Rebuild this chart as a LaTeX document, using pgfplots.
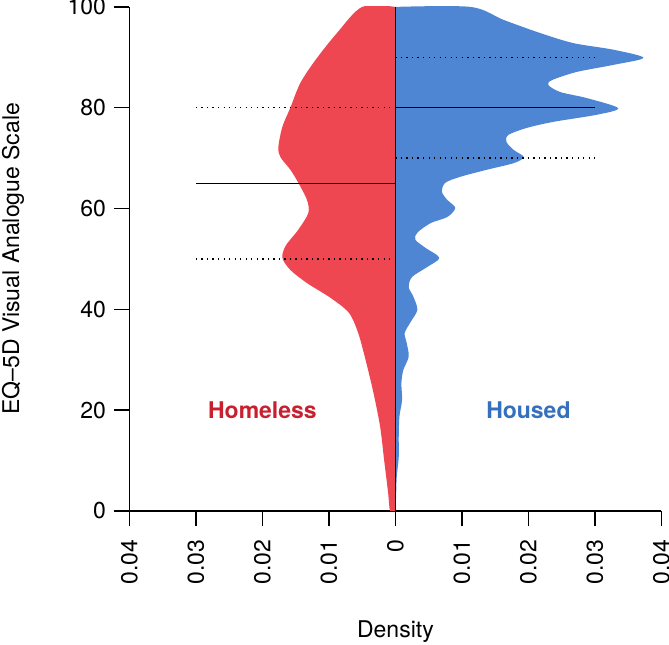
\documentclass[border=0pt]{standalone}
\usepackage{fontspec}
\setmainfont{TeX Gyre Heros}
\usepackage{pgfplots}
\pgfplotsset{compat=1.18}
\definecolor{redfill}{RGB}{238,71,82}
\definecolor{bluefill}{RGB}{79,134,212}
\definecolor{redtext}{RGB}{200,32,47}
\definecolor{bluetext}{RGB}{52,112,190}
\begin{document}
\begin{tikzpicture}
\begin{axis}[
  scale only axis, width=231.4pt, height=219.2pt,
  xmin=-0.04, xmax=0.04, ymin=0, ymax=100,
  axis lines=left,
  axis line style={-, line width=0.6pt},
  tick align=outside,
  major tick length=6.5pt,
  tick style={black, line width=0.6pt},
  xtick={-0.04,-0.03,-0.02,-0.01,0,0.01,0.02,0.03,0.04},
  xticklabels={0.04,0.03,0.02,0.01,0,0.01,0.02,0.03,0.04},
  scaled x ticks=false,
  ytick={0,20,40,60,80,100},
  /pgf/number format/assume math mode=true,
  ticklabel style={font=\fontsize{10}{12}\selectfont},
  xticklabel style={rotate=90, anchor=east, inner sep=0pt, inner xsep=6pt},
  yticklabel style={anchor=east, inner sep=0pt, inner xsep=3.5pt},
  xlabel={Density},
  ylabel={EQ--5D Visual Analogue Scale},
  label style={font=\fontsize{10}{12}\selectfont},
  xlabel style={at={(axis description cs:0.5,-0.24)}, anchor=center},
  ylabel style={at={(axis description cs:-0.219,0.5)}, anchor=center},
  clip=true,
]
% Homeless density (left, red)
\addplot[fill=redfill, draw=none, smooth, tension=0.5] coordinates {
(0,0) (-0.0008,0) (-0.0011,3.6) (-0.0017,10.1) (-0.0023,16.7) (-0.0033,23.4)
(-0.0045,30) (-0.0056,35.3) (-0.0070,39.3) (-0.0098,42.3) (-0.0133,45.2)
(-0.0158,47.8) (-0.0170,50.2) (-0.0165,52.6) (-0.0146,55.8) (-0.0131,59.1)
(-0.0133,61.7) (-0.0146,65.1) (-0.0158,67.7) (-0.0173,70.2) (-0.0176,72.2)
(-0.0170,76.2) (-0.0158,80) (-0.0143,84.9) (-0.0120,89.5) (-0.0088,94.8)
(-0.0050,100) (0,100)
};
% Housed density (right, blue)
\addplot[fill=bluefill, draw=none, smooth, tension=0.5] coordinates {
(0,0) (0.0001,2.8) (0.0002,6.7) (0.0005,10.7) (0.0005,14.7) (0.0006,18.7)
(0.0010,22) (0.0009,25.4) (0.0012,28) (0.0020,30.6) (0.0017,33.3) (0.0014,35.3)
(0.0023,37.5) (0.0033,39.9) (0.0027,42.5) (0.0020,44.4) (0.0025,46.4)
(0.0048,48.4) (0.0066,50.2) (0.0045,52.2) (0.0030,53.8) (0.0033,55.2)
(0.0053,57.1) (0.0078,58.3) (0.0090,60.1) (0.0078,61.7) (0.0070,63.3)
(0.0075,65.1) (0.0098,66.3) (0.0138,67.7) (0.0178,69) (0.0193,70.2)
(0.0178,71.6) (0.0167,73.2) (0.0170,74.6) (0.0198,76) (0.0238,77.2)
(0.0303,78.6) (0.0335,79.9) (0.0288,81.9) (0.0248,83.1) (0.0230,84.5)
(0.0236,85.5) (0.0273,87.1) (0.0328,88.5) (0.0373,89.9) (0.0328,91.5)
(0.0268,92.8) (0.0218,94.8) (0.0163,97.4) (0.0113,100) (0,100)
};
% quartile / median lines
\addplot[black, line width=0.6pt] coordinates {(-0.03,65) (0,65)};
\addplot[black, line width=0.6pt, dash pattern=on 0.6pt off 1.8pt] coordinates {(-0.03,50) (0,50)};
\addplot[black, line width=0.6pt, dash pattern=on 0.6pt off 1.8pt] coordinates {(-0.03,80) (0,80)};
\addplot[black, line width=0.6pt] coordinates {(0,80) (0.03,80)};
\addplot[black, line width=0.6pt, dash pattern=on 0.6pt off 1.8pt] coordinates {(0,70) (0.03,70)};
\addplot[black, line width=0.6pt, dash pattern=on 0.6pt off 1.8pt] coordinates {(0,90) (0.03,90)};
% centre line
\addplot[black, line width=0.7pt] coordinates {(0,0) (0,100)};
\node[font=\fontsize{10}{12}\selectfont\bfseries, text=redtext] at (axis cs:-0.02,20) {Homeless};
\node[font=\fontsize{10}{12}\selectfont\bfseries, text=bluetext] at (axis cs:0.02,20) {Housed};
\end{axis}
\pgfresetboundingbox
\path (-56.3pt,-58.3pt) rectangle (234.7pt,222.2pt);
\end{tikzpicture}
\end{document}
